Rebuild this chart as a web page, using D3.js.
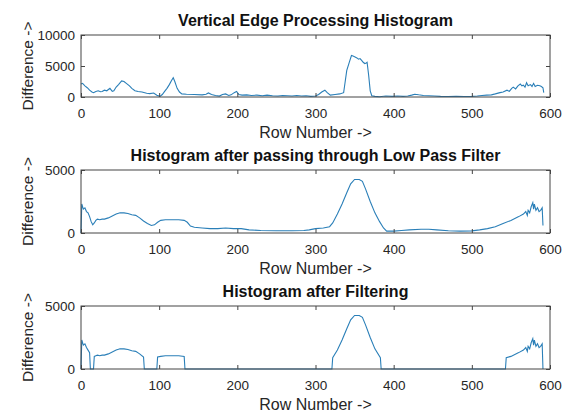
<!DOCTYPE html>
<html><head><meta charset="utf-8">
<script src="https://cdn.jsdelivr.net/npm/d3@7"></script>
<style>
body{margin:0;background:#fff;}
svg{display:block;font-family:"Liberation Sans",Arial,sans-serif;}
</style></head>
<body><svg id="c" width="569" height="417"></svg>
<script>
// ---- Data ----
const titles = ["Vertical Edge Processing Histogram","Histogram after passing through Low Pass Filter","Histogram after Filtering"];
const xLabel = "Row Number ->";
const yLabel = "Difference ->";
const xTicks = [0,100,200,300,400,500,600];
const yTicks1 = [0,5000,10000];
const yTicks2 = [0,5000];
const yTicks3 = [0,5000];

const rows1 = [0,2,5,8,11,14,16,19,22,25,27,30,33,37,40,42,45,48,52,55,58,62,65,69,73,78,84,88,93,97,101,104,107,110,113,116,118,120,123,126,129,135,145,155,160,163,167,172,177,181,185,189,192,196,199,202,206,212,218,225,232,238,245,252,258,264,270,276,282,288,294,300,304,308,312,315,319,325,331,336,338,340,343,346,348,350,353,355,357,359,361,363,365,366,368,370,372,376,382,390,398,405,412,418,423,427,432,438,445,452,460,470,480,490,500,507,513,519,525,530,536,540,545,548,551,553,556,559,562,564,566,568,570,572,575,577,579,581,584,587,589,591,592];
const diff1 = [2100,2200,1800,1500,1100,800,700,900,1000,850,900,1100,1000,1400,900,1000,1600,2000,2600,2500,2200,1800,1400,1000,900,800,600,550,650,300,100,400,900,1400,2000,2700,3100,2500,1400,800,500,450,400,350,450,650,400,250,150,400,500,250,350,700,900,400,300,350,250,300,200,300,200,150,250,200,150,250,150,200,100,150,400,800,1100,700,300,400,500,700,2500,4300,5500,6700,6600,6500,6300,6100,6200,5900,5600,5400,5500,5600,3500,1000,200,100,50,150,100,150,100,150,300,450,350,250,200,150,100,80,100,80,100,150,250,300,350,500,700,800,1100,900,1400,1600,1300,1800,2100,1800,1900,1600,2300,1800,2000,1700,2200,1700,1900,1800,1700,1500,700];

const rows2 = [0,1,3,5,7,9,11,13,15,17,19,21,24,27,30,35,40,45,50,55,60,65,70,75,80,85,90,94,98,102,108,115,125,132,136,140,145,155,165,175,185,195,205,215,230,250,270,285,292,300,310,318,322,328,334,340,345,350,356,360,364,370,376,382,387,391,400,410,420,435,445,455,470,485,500,510,520,530,540,550,560,566,569,571,572,574,576,578,579,580,582,584,586,588,590,591];
const diff2 = [0,2300,1900,2000,1700,1600,1300,900,650,800,1000,1100,1050,1100,1100,1200,1350,1500,1600,1600,1550,1450,1400,1200,950,750,600,650,850,1000,1050,1050,1050,1000,850,550,450,400,350,350,400,350,350,250,200,180,180,200,250,350,400,500,800,1500,2300,3200,3900,4250,4250,4100,3500,2500,1600,900,400,150,150,200,250,300,300,250,180,150,170,250,350,500,750,1000,1300,1500,1700,1400,1800,1600,2100,2400,1900,2300,1800,2000,1700,1800,2000,600];

const rows3 = [0,1,3,5,7,9,11,12,16,17,19,21,24,27,30,35,40,45,50,55,60,65,70,75,80,81,97,98,102,108,115,125,132,133,321,322,328,334,340,345,350,356,360,364,370,376,383,384,543,544,550,560,566,569,571,572,574,576,578,579,580,582,584,586,588,590,591];
const diff3 = [0,2300,1900,2000,1700,1500,1300,0,0,1000,1050,1100,1050,1100,1100,1200,1350,1500,1600,1600,1550,1450,1400,1200,950,0,0,950,1000,1050,1050,1050,1000,0,0,900,1500,2300,3200,3900,4250,4250,4100,3500,2500,1600,900,0,0,900,1000,1300,1500,1700,1400,1800,1600,2100,2400,1900,2300,1800,2000,1700,1800,2000,0];

// ---- Layout ----
const svg = d3.select("#c");
const left = 81, right = 550;
const panels = [
  {top:35, bottom:97, ymax:10000, yt:yTicks1, rows:rows1, vals:diff1, title:titles[0]},
  {top:170, bottom:233, ymax:5000, yt:yTicks2, rows:rows2, vals:diff2, title:titles[1]},
  {top:306, bottom:369, ymax:5000, yt:yTicks3, rows:rows3, vals:diff3, title:titles[2]}
];
const textCol = "#262626", axCol = "#444";
const x = d3.scaleLinear().domain([0,600]).range([left,right]);

panels.forEach(p => {
  const y = d3.scaleLinear().domain([0,p.ymax]).range([p.bottom,p.top]);
  const g = svg.append("g");
  const line = d3.line().x((d,i)=>x(p.rows[i])).y(d=>y(d));
  g.append("path").datum(p.vals).attr("d", line)
    .attr("fill","none").attr("stroke","#2a7fb8").attr("stroke-width",1.1);
  const ax = (sel)=>{sel.select(".domain").remove(); sel.selectAll("line").attr("stroke",axCol); sel.selectAll("text").attr("fill",textCol);};
  g.append("g").attr("transform",`translate(0,${p.bottom})`)
    .call(d3.axisBottom(x).tickValues(xTicks).tickSize(-4).tickPadding(11).tickFormat(d3.format("d")))
    .call(ax).selectAll("text").attr("font-size",13.5).attr("font-family","Liberation Sans, Arial");
  g.append("g").attr("transform",`translate(0,${p.top})`)
    .call(d3.axisTop(x).tickValues(xTicks).tickSize(-4).tickFormat(""))
    .call(ax);
  g.append("g").attr("transform",`translate(${left},0)`)
    .call(d3.axisLeft(y).tickValues(p.yt).tickSize(-4).tickPadding(6).tickFormat(d3.format("d")))
    .call(ax).selectAll("text").attr("font-size",13.5).attr("font-family","Liberation Sans, Arial");
  g.append("g").attr("transform",`translate(${right},0)`)
    .call(d3.axisRight(y).tickValues(p.yt).tickSize(-4).tickFormat(""))
    .call(ax);
  g.append("rect").attr("x",left).attr("y",p.top).attr("width",right-left).attr("height",p.bottom-p.top)
    .attr("fill","none").attr("stroke",axCol).attr("stroke-width",1);
  g.append("text").attr("x",(left+right)/2).attr("y",p.top-9).attr("text-anchor","middle")
    .attr("font-size",16).attr("font-weight","bold").attr("fill","#111").text(p.title);
  g.append("text").attr("x",(left+right)/2).attr("y",p.bottom+41).attr("text-anchor","middle")
    .attr("font-size",16).attr("fill",textCol).text(xLabel);
  g.append("text").attr("transform",`translate(33,${(p.top+p.bottom)/2}) rotate(-90)`)
    .attr("text-anchor","middle").attr("font-size",15.5).attr("fill",textCol).text(yLabel);
});
</script></body></html>
